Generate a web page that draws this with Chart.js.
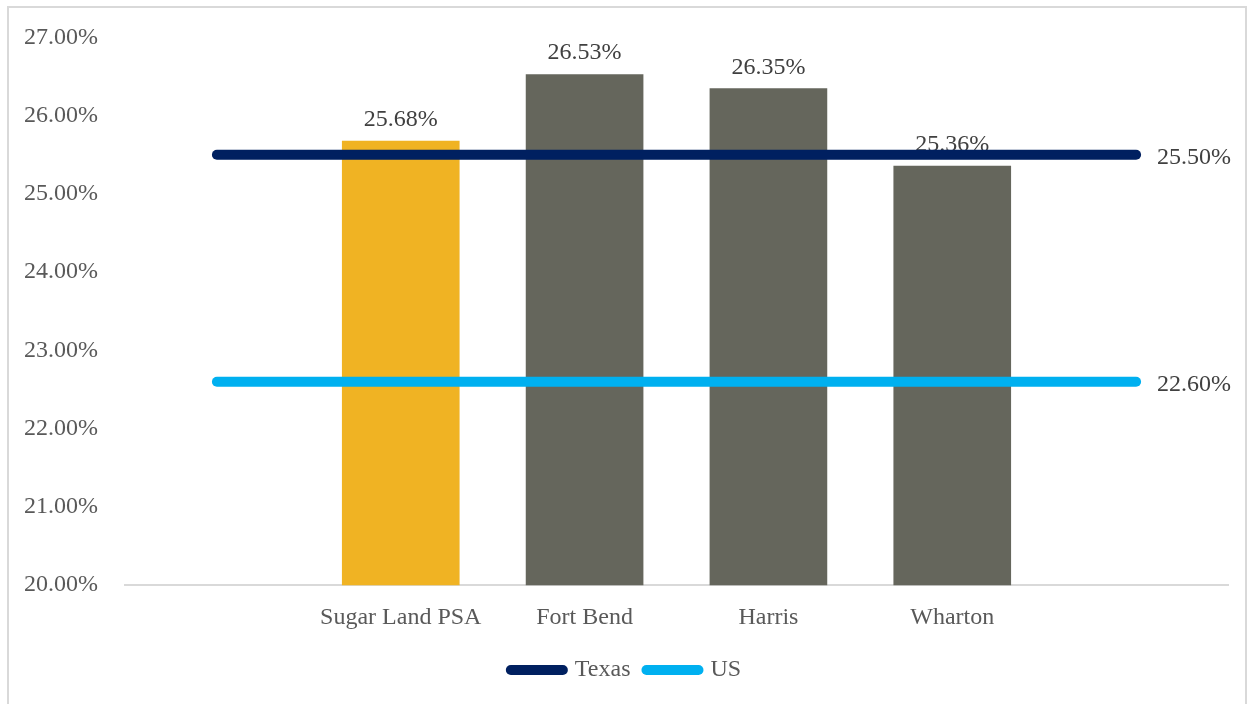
<!DOCTYPE html>
<html>
<head>
<meta charset="utf-8">
<script src="https://cdn.jsdelivr.net/npm/chart.js@4.4.1/dist/chart.umd.min.js"></script>
<style>
    body{
        margin:0;
        background:#ffffff;
    }
    #frame{
        position:absolute;
        left:7px;
        top:6px;
        width:1240px;
        height:700px;
        border:2px solid #d9d9d9;
        box-sizing:border-box;
    }
    #chart{
        display:block;
    }
</style>
</head>
<body>

<div id="frame">
    <canvas id="chart" width="1240" height="700"></canvas>
</div>

<script>

/*
=================================
DATA
=================================
*/

const categories = [
    "",
    "Sugar Land PSA",
    "Fort Bend",
    "Harris",
    "Wharton",
    ""
];

const areaValues = [
    null,
    25.68,
    26.53,
    26.35,
    25.36,
    null
];

const texasValues = [
    25.5, 25.5, 25.5, 25.5, 25.5, 25.5
];

const usValues = [
    22.6, 22.6, 22.6, 22.6, 22.6, 22.6
];

const yTicks = [
    20, 21, 22, 23, 24, 25, 26, 27
];

/*
=================================
STYLE
=================================
*/

const FONT = "'Liberation Serif', 'DejaVu Serif', serif";
const SIZE = 24;

const barColors =
    categories.map((c, i) =>
        i === 1 ? "#f0b323" : "#65665c"
    );

function pct(v){
    return v.toFixed(2) + "%";
}

/*
=================================
LABEL PLUGIN
=================================
*/

const labelPlugin = {

    id:"valueLabels",

    afterDatasetDraw(chart, args){

        const ctx = chart.ctx;
        const ds = chart.data.datasets[args.index];
        const meta = args.meta;

        ctx.save();
        ctx.font = SIZE + "px " + FONT;
        ctx.fillStyle = "#404040";

        if(ds.type === "bar"){

            ctx.textAlign = "center";
            ctx.textBaseline = "bottom";

            meta.data.forEach((el, i) => {
                const v = ds.data[i];
                if(v === null) return;
                ctx.fillText(pct(v), el.x, el.y - 9);
            });

        }else{

            const last = meta.data[meta.data.length - 1];
            const v = ds.data[ds.data.length - 1];

            ctx.textAlign = "left";
            ctx.textBaseline = "middle";
            ctx.fillText(pct(v), last.x + 21, last.y + 3);
        }

        ctx.restore();
    }
};

/*
=================================
CHART
=================================
*/

new Chart(
    document.getElementById("chart"),
    {
        data:{
            labels:categories,
            datasets:[
                {
                    type:"bar",
                    label:"Area",
                    data:areaValues,
                    backgroundColor:barColors,
                    barPercentage:0.64,
                    categoryPercentage:1,
                    order:2
                },
                {
                    type:"line",
                    label:"Texas",
                    data:texasValues,
                    borderColor:"#002060",
                    backgroundColor:"#002060",
                    borderWidth:10,
                    borderCapStyle:"round",
                    pointRadius:0,
                    pointStyle:"line",
                    order:1
                },
                {
                    type:"line",
                    label:"US",
                    data:usValues,
                    borderColor:"#00b0f0",
                    backgroundColor:"#00b0f0",
                    borderWidth:10,
                    borderCapStyle:"round",
                    pointRadius:0,
                    pointStyle:"line",
                    order:1
                }
            ]
        },

        options:{
            responsive:false,
            animation:false,
            layout:{
                padding:{
                    left:15,
                    right:21,
                    top:0,
                    bottom:16
                }
            },
            plugins:{
                tooltip:{enabled:false},
                legend:{
                    position:"bottom",
                    labels:{
                        font:{family:FONT, size:SIZE},
                        color:"#595959",
                        usePointStyle:true,
                        pointStyleWidth:52,
                        boxHeight:10,
                        padding:16,
                        filter:item => item.text !== "Area",
                        generateLabels(chart){
                            const items =
                                Chart.defaults.plugins.legend.labels
                                .generateLabels(chart);
                            items.forEach(it => {
                                it.lineCap = "round";
                            });
                            return items;
                        }
                    }
                }
            },
            scales:{
                x:{
                    grid:{display:false, drawTicks:false},
                    border:{color:"#d9d9d9", width:2},
                    afterFit(axis){
                        axis.height -= 8;
                    },
                    ticks:{
                        font:{family:FONT, size:SIZE},
                        color:"#595959",
                        padding:18,
                        maxRotation:0,
                        autoSkip:false
                    }
                },
                y:{
                    min:yTicks[0],
                    max:yTicks[yTicks.length - 1],
                    grid:{display:false, drawTicks:false},
                    border:{display:false},
                    afterBuildTicks(axis){
                        axis.ticks = yTicks.map(v => ({value:v}));
                    },
                    afterFit(axis){
                        axis.width = 101;
                    },
                    ticks:{
                        font:{family:FONT, size:SIZE},
                        color:"#595959",
                        padding:15,
                        crossAlign:"far",
                        callback:v => pct(v)
                    }
                }
            }
        },

        plugins:[labelPlugin]
    }
);

</script>
</body>
</html>
